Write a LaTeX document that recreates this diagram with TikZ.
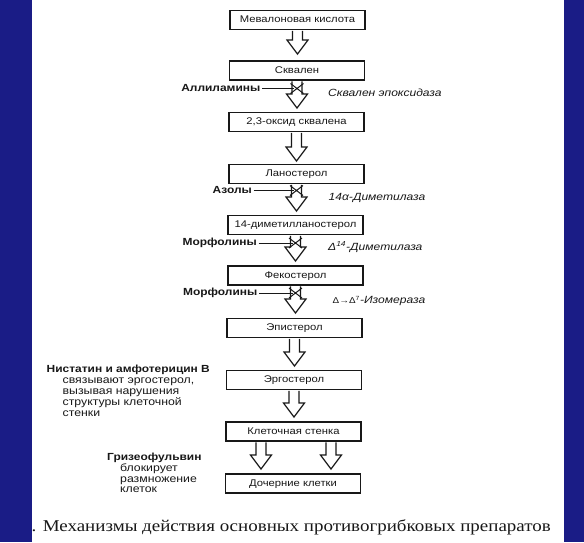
\documentclass[tikz,border=0pt]{standalone}
\usepackage{fontspec}
\setmainfont{Liberation Serif}
\newfontfamily\dgsans[FakeStretch=1.16]{Liberation Sans}
\newfontfamily\dgserif[FakeStretch=1.15]{Liberation Serif}
\usetikzlibrary{calc}
\definecolor{bgblue}{RGB}{26,28,134}
\definecolor{ink}{RGB}{24,24,24}
\tikzset{
  stagebox/.style={draw=ink, line width=1.45pt, minimum width=135pt, minimum height=19pt,
    inner sep=0pt, text height=7.2pt, text depth=2pt, text=ink,
    font=\dgsans\fontsize{9.7}{11}\selectfont},
  drug/.style={inner sep=0pt, text height=7.4pt, text depth=2pt, text=ink,
    font=\dgsans\bfseries\fontsize{10.3}{11}\selectfont},
  note/.style={inner sep=0pt, text height=7.4pt, text depth=2pt, text=ink,
    font=\dgsans\fontsize{10.6}{11}\selectfont},
  enzyme/.style={inner sep=0pt, text height=7.4pt, text depth=2pt, text=ink,
    font=\dgsans\itshape\fontsize{10.4}{11}\selectfont},
  captiontext/.style={inner sep=0pt, text height=11pt, text depth=3pt, text=ink,
    font=\dgserif\fontsize{16.5}{18}\selectfont},
  arrowline/.style={draw=ink, line width=1.2pt, fill=white, line join=miter},
  inhib/.style={draw=ink, line width=1pt},
}
% block arrow: #1 start (node anchor), #2 tip coordinate
\newcommand\blkarrow[2]{%
  \draw[arrowline] let \p1=(#1), \p2=(#2) in
    (\x1-5pt,\y1-0.7pt) -- (\x1-5pt,\y2+14pt) -- (\x1-10.5pt,\y2+14pt) -- (\x1,\y2)
    -- (\x1+10.5pt,\y2+14pt) -- (\x1+5pt,\y2+14pt) -- (\x1+5pt,\y1-0.7pt);}
% inhibition mark: #1 drug label node, #2 point on shaft
\newcommand\inhibmark[2]{%
  \draw[inhib] ($(#1.east)+(1.5,0)$) -- ($(#2)+(-3,0)$);
  \draw[inhib] ($(#2)+(-6.5,-5)$) -- ($(#2)+(6.5,5)$)
               ($(#2)+(-6.5,5)$) -- ($(#2)+(6.5,-5)$);}
\begin{document}
\begin{tikzpicture}[x=1pt,y=-1pt]
\useasboundingbox (0,0) rectangle (584,542);
\fill[bgblue] (0,0) rectangle (584,542);
\fill[white] (32,0) rectangle (564,542);

% stages
\node[stagebox] (b1) at (297.5,20) {Мевалоновая кислота};
\node[stagebox] (b2) at (297,70.5) {Сквален};
\node[stagebox] (b3) at (296.5,122) {2,3-оксид сквалена};
\node[stagebox] (b4) at (296.5,174) {Ланостерол};
\node[stagebox] (b5) at (295.5,225) {14-диметилланостерол};
\node[stagebox] (b6) at (295.5,275.5) {Фекостерол};
\node[stagebox] (b7) at (294.5,328) {Эпистерол};
\node[stagebox] (b8) at (294,380) {Эргостерол};
\node[stagebox] (b9) at (293.5,431.5) {Клеточная стенка};
\node[stagebox] (b10) at (293,483.5) {Дочерние клетки};

% arrow tips
\coordinate (t1) at (297.5,54);
\coordinate (t2) at (297,108);
\coordinate (t3) at (296.5,161);
\coordinate (t4) at (296.5,211);
\coordinate (t5) at (295.5,261);
\coordinate (t6) at (295.5,313);
\coordinate (t7) at (294.5,366);
\coordinate (t8) at (294,417);
\coordinate (s9a) at ($(b9.south)+(-32.5,0)$);
\coordinate (s9b) at ($(b9.south)+(37.5,0)$);
\coordinate (t9a) at (261,469);
\coordinate (t9b) at (331,469);

\blkarrow{b1.south}{t1}
\blkarrow{b2.south}{t2}
\blkarrow{b3.south}{t3}
\blkarrow{b4.south}{t4}
\blkarrow{b5.south}{t5}
\blkarrow{b6.south}{t6}
\blkarrow{b7.south}{t7}
\blkarrow{b8.south}{t8}
\blkarrow{s9a}{t9a}
\blkarrow{s9b}{t9b}

% inhibitors
\node[drug, anchor=east] (d2) at (260.5,88.5) {Аллиламины};
\node[drug, anchor=east] (d4) at (252,190.5) {Азолы};
\node[drug, anchor=east] (d5) at (257,243) {Морфолины};
\node[drug, anchor=east] (d6) at (257.5,293) {Морфолины};
\coordinate (i2) at (b2.south |- d2.east);
\coordinate (i4) at (b4.south |- d4.east);
\coordinate (i5) at (b5.south |- d5.east);
\coordinate (i6) at (b6.south |- d6.east);
\inhibmark{d2}{i2}
\inhibmark{d4}{i4}
\inhibmark{d5}{i5}
\inhibmark{d6}{i6}

% enzymes
\node[enzyme, anchor=west] (e2) at (328,94) {Сквален эпоксидаза};
\node[enzyme, anchor=west] (e4) at (328.5,197.5) {14α-Диметилаза};
\node[enzyme, anchor=west] (e5) at (328,247.5) {Δ\textsuperscript{14}-Диметилаза};
\node[enzyme, anchor=west] (e6) at (332.5,300.5) {{\upshape\fontsize{8.5}{9}\selectfont Δ→Δ\textsuperscript{7}}-Изомераза};

% notes
\node[drug, anchor=west] (n0) at (46.5,369.5) {Нистатин и амфотерицин В};
\node[note, anchor=west] (n1) at (62.5,381) {связывают эргостерол,};
\node[note, anchor=west] (n2) at (62.5,392) {вызывая нарушения};
\node[note, anchor=west] (n3) at (62.5,403) {структуры клеточной};
\node[note, anchor=west] (n4) at (62.5,414) {стенки};

\node[drug, anchor=west] (g0) at (107,458) {Гризеофульвин};
\node[note, anchor=west] (g1) at (120,468.5) {блокирует};
\node[note, anchor=west] (g2) at (120,479.5) {размножение};
\node[note, anchor=west] (g3) at (120,490) {клеток};

% caption
\node[captiontext, anchor=west] (cap) at (31.5,527) {. Механизмы действия основных противогрибковых препаратов};
\end{tikzpicture}
\end{document}
